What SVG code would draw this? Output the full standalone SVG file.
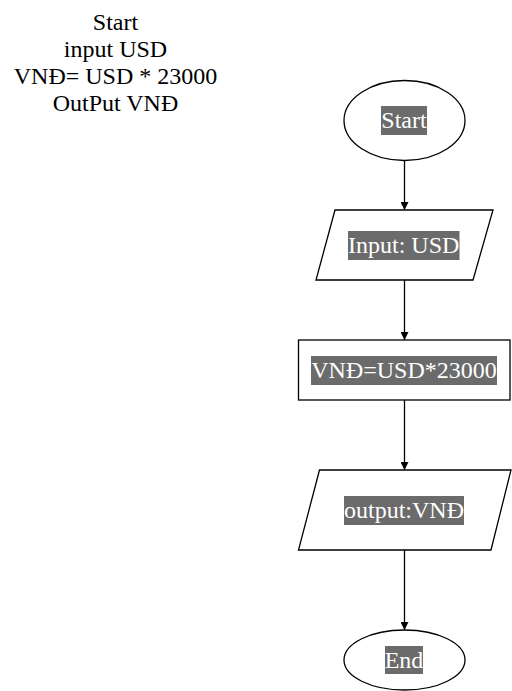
<svg xmlns="http://www.w3.org/2000/svg" width="512" height="691" viewBox="0 0 512 691">
<style>
.shape{fill:#fff;stroke:#000;stroke-width:1.3}
.hl{fill:#6b6b6b}
.lbl{font-family:'Liberation Serif',serif;font-size:24px;fill:#fff;text-anchor:middle}
.note{font-family:'Liberation Serif',serif;font-size:24px;fill:#000;text-anchor:middle}
.edge{stroke:#000;stroke-width:1.3;fill:none;marker-end:url(#arr)}
</style>
<defs>
<marker id="arr" viewBox="0 0 8 8" refX="8" refY="4" markerWidth="8" markerHeight="8" markerUnits="userSpaceOnUse" orient="auto">
<path d="M0,0 L8,4 L0,8 Z" fill="#000"/>
</marker>
</defs>
<g id="note" font-family="Liberation Serif">
<text class="note" x="115.5" y="30">Start</text>
<text class="note" x="115.5" y="57">input USD</text>
<text class="note" x="115.5" y="84">VNĐ= USD * 23000</text>
<text class="note" x="115.5" y="111">OutPut VNĐ</text>
</g>
<g id="connectors">
<line class="edge" x1="404.5" y1="160.5" x2="404.5" y2="210"/>
<line class="edge" x1="404.5" y1="280" x2="404.5" y2="340"/>
<line class="edge" x1="404.5" y1="400" x2="404.5" y2="470"/>
<line class="edge" x1="404.5" y1="550" x2="404.5" y2="630"/>
</g>
<g id="start">
<ellipse class="shape" cx="404.5" cy="120.5" rx="60.5" ry="40"/>
<rect class="hl" x="381" y="106" width="46" height="29"/>
<text class="lbl" x="404" y="128">Start</text>
</g>
<g id="input">
<polygon class="shape" points="335,210 493,210 473,280 316,280"/>
<rect class="hl" x="348" y="231" width="111.5" height="29"/>
<text class="lbl" x="403.7" y="253">Input: USD</text>
</g>
<g id="process">
<rect class="shape" x="298.5" y="340" width="211.5" height="60"/>
<rect class="hl" x="311" y="356" width="186" height="29"/>
<text class="lbl" x="404" y="378">VNĐ=USD*23000</text>
</g>
<g id="output">
<polygon class="shape" points="319.5,470 511,470 491,550 298.5,550"/>
<rect class="hl" x="344" y="496" width="120" height="29"/>
<text class="lbl" x="404" y="518">output:VNĐ</text>
</g>
<g id="end">
<ellipse class="shape" cx="404.5" cy="660" rx="60.5" ry="30"/>
<rect class="hl" x="385" y="646" width="38" height="28"/>
<text class="lbl" x="404" y="668">End</text>
</g>
</svg>
